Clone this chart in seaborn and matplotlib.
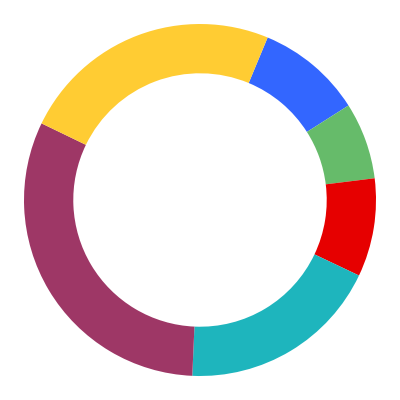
import matplotlib
matplotlib.use("Agg")
import matplotlib.pyplot as plt
import seaborn as sns

sns.set_theme(style="white")

categories = ["Blue", "Green", "Red", "Teal", "Purple", "Yellow"]
values = [9.7, 7.05, 9.03, 18.64, 31.47, 24.11]
colors = ["#3366FF", "#66BB6A", "#E60000", "#1EB5BD", "#9E3766", "#FFCC33"]

fig, ax = plt.subplots(figsize=(4, 4), dpi=100)
fig.subplots_adjust(left=0, right=1, bottom=0, top=1)
ax.pie(values, colors=colors, startangle=90 - 22.6, counterclock=False,
       radius=1.0, wedgeprops=dict(width=0.28, edgecolor="none", linewidth=0))
ax.set_aspect("equal")
ax.set_xlim(-200 / 176, 200 / 176)
ax.set_ylim(-200 / 176, 200 / 176)
ax.axis("off")
fig.savefig("out.png", dpi=100, facecolor="white")
